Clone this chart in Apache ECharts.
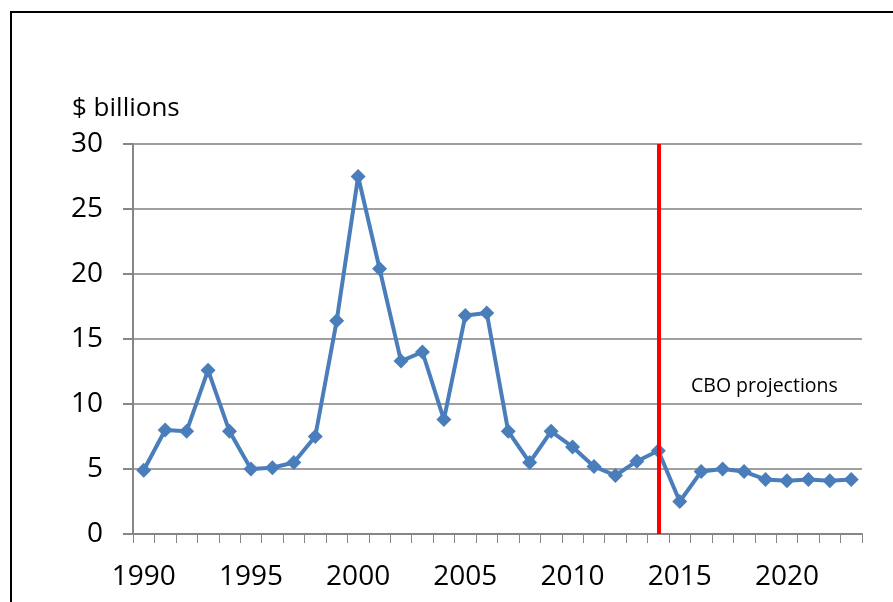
<!DOCTYPE html>
<html>
<head>
<meta charset="utf-8">
<script src="https://cdn.jsdelivr.net/npm/echarts@6/dist/echarts.min.js"></script>
<style>
    html, body { margin: 0; padding: 0; background: #fff; }
    #chart { width: 893px; height: 602px; }
</style>
</head>
<body>
<div id="chart"></div>
<script>
// 年份 (categories)
const years = [
    '1990', '1991', '1992', '1993', '1994', '1995', '1996', '1997', '1998', '1999',
    '2000', '2001', '2002', '2003', '2004', '2005', '2006', '2007', '2008', '2009',
    '2010', '2011', '2012', '2013', '2014', '2015', '2016', '2017', '2018', '2019',
    '2020', '2021', '2022', '2023'
];
// $ billions
const values = [
    4.9, 8.0, 7.9, 12.6, 7.9, 5.0, 5.1, 5.5, 7.5, 16.4,
    27.5, 20.4, 13.3, 14.0, 8.8, 16.8, 17.0, 7.9, 5.5, 7.9,
    6.7, 5.2, 4.5, 5.6, 6.4, 2.5, 4.8, 5.0, 4.8, 4.2,
    4.1, 4.2, 4.1, 4.2
];
const projectionStart = '2014';

const mCharts = echarts.init(document.getElementById('chart'));
const font = '"Open Sans", "Liberation Sans", sans-serif';

const options = {
    animation: false,
    grid: {
        top: 144,
        left: 133,
        right: 31,
        bottom: 68
    },
    xAxis: {
        type: 'category',
        data: years,
        boundaryGap: true,
        axisLine: { lineStyle: { color: '#868686', width: 2 } },
        axisTick: {
            show: true,
            length: 9,
            interval: 0,
            lineStyle: { color: '#868686', width: 1 }
        },
        axisLabel: {
            interval: 4,
            margin: 29,
            color: '#000',
            fontSize: 28,
            fontFamily: font
        }
    },
    yAxis: {
        type: 'value',
        min: 0,
        max: 30,
        interval: 5,
        axisLine: { show: true, lineStyle: { color: '#868686', width: 2 } },
        axisTick: { show: true, length: 10, lineStyle: { color: '#868686', width: 2 } },
        axisLabel: {
            margin: 30,
            color: '#000',
            fontSize: 28,
            fontFamily: font
        },
        splitLine: { lineStyle: { color: '#a0a0a0', width: 2 } }
    },
    // 外框、單位與註記文字
    graphic: [
        {
            type: 'rect',
            shape: { x: 11, y: 12, width: 1000, height: 1000 },
            style: { fill: 'none', stroke: '#000', lineWidth: 2 }
        },
        {
            type: 'text',
            left: 72,
            top: 96,
            style: { text: '$ billions', fill: '#000', font: '26px ' + font }
        },
        {
            type: 'text',
            left: 691,
            top: 376,
            style: { text: 'CBO projections', fill: '#000', font: '19.5px ' + font }
        }
    ],
    series: [
        {
            type: 'line',
            data: values,
            color: '#4a7ebb',
            lineStyle: { width: 4 },
            symbol: 'diamond',
            symbolSize: 15,
            showAllSymbol: true,
            itemStyle: { color: '#4a7ebb' },
            markLine: {
                silent: true,
                symbol: 'none',
                label: { show: false },
                lineStyle: { color: '#ff0000', width: 4, type: 'solid' },
                data: [{ xAxis: projectionStart }]
            },
            z: 3
        }
    ]
};

mCharts.setOption(options);
</script>
</body>
</html>
